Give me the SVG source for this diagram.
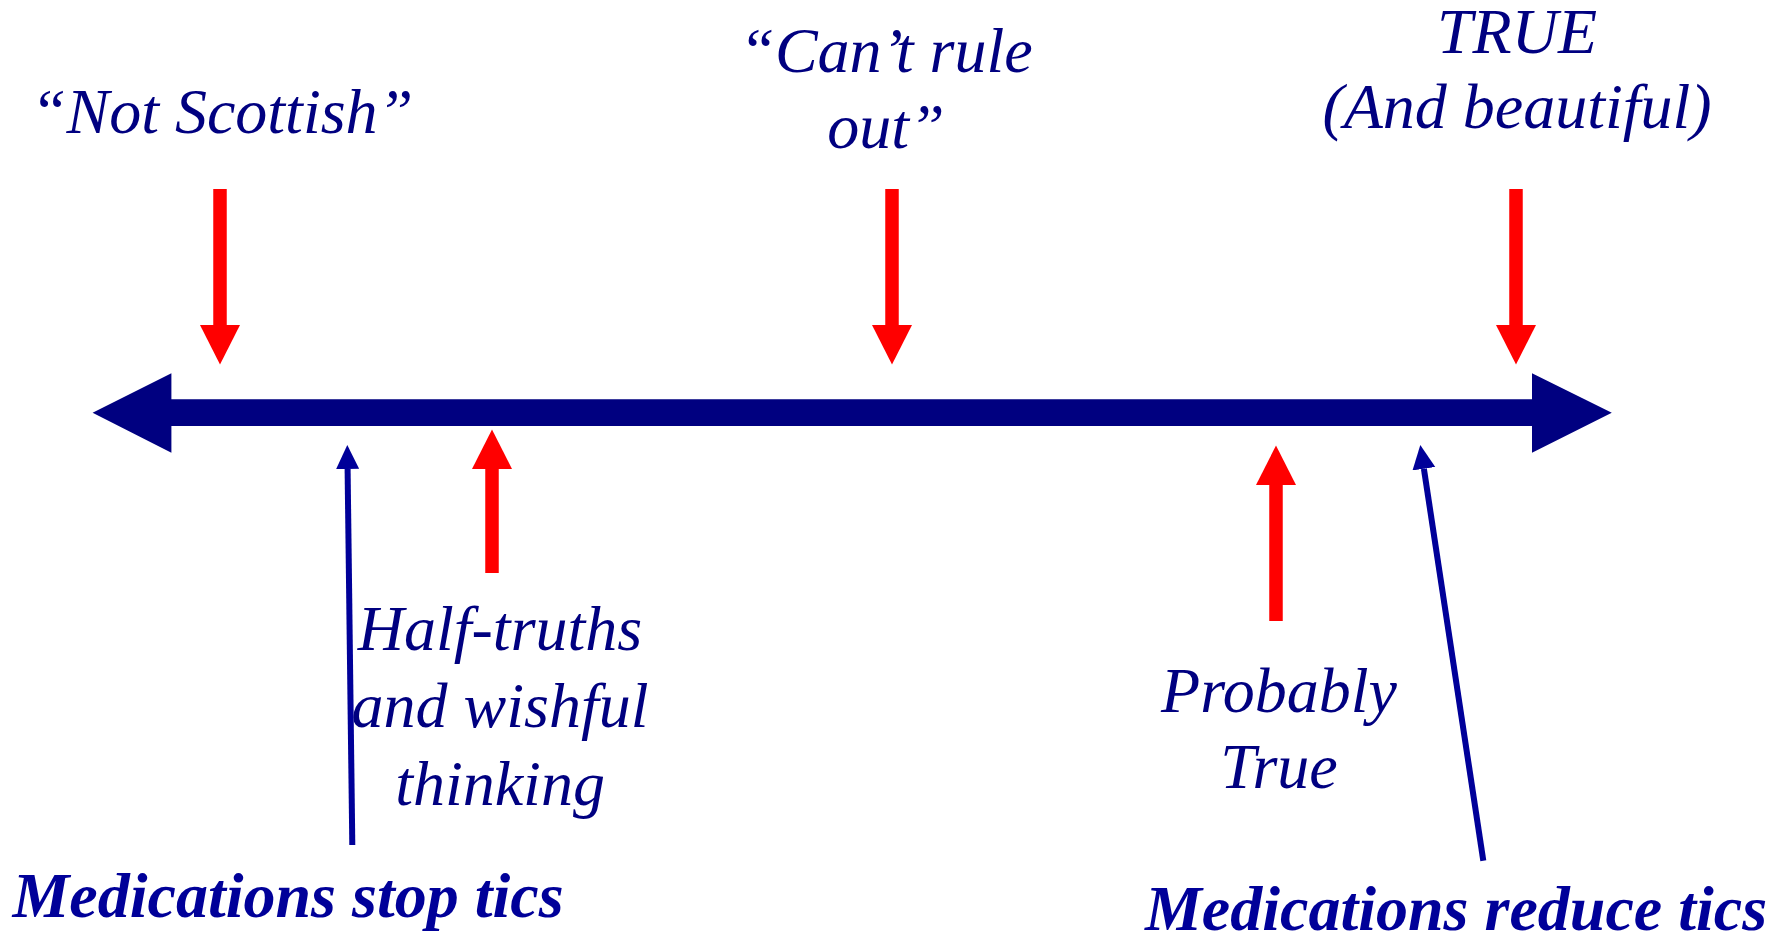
<svg xmlns="http://www.w3.org/2000/svg" width="1787" height="934" viewBox="0 0 1787 934">
<style>
.lbl{font-family:"Liberation Serif","Times New Roman",serif;font-style:italic;font-size:64px;fill:#000080;text-anchor:middle}
.bold{font-weight:bold;fill:#000099}
.red{stroke:#FF0000;stroke-width:13.5;fill:none}
.blue{stroke:#000099;stroke-width:6;fill:none}
</style>
<defs>
<marker id="redHead" markerUnits="userSpaceOnUse" markerWidth="40" markerHeight="40" refX="0" refY="20" orient="auto" viewBox="0 0 40 40">
<path d="M0,0 L39.5,20 L0,40 z" fill="#FF0000"/>
</marker>
<marker id="blueHead" markerUnits="userSpaceOnUse" markerWidth="24" markerHeight="24" refX="0" refY="11.5" orient="auto" viewBox="0 0 24 23">
<path d="M0,0 L24,11.5 L0,23 z" fill="#000099"/>
</marker>
</defs>
<rect width="1787" height="934" fill="#FFFFFF"/>
<g id="scale">
<polygon points="92.6,412.7 171.4,373.3 171.4,399.3 1532,399.3 1532,373.3 1611.8,412.7 1532,452.7 1532,426 171.4,426 171.4,452.7" fill="#000080"/>
</g>
<g id="connectors">
<line class="red" x1="220" y1="189" x2="220" y2="325" marker-end="url(#redHead)"/>
<line class="red" x1="892" y1="189" x2="892" y2="325" marker-end="url(#redHead)"/>
<line class="red" x1="1516" y1="189" x2="1516" y2="325" marker-end="url(#redHead)"/>
<line class="red" x1="492" y1="573" x2="492" y2="469" marker-end="url(#redHead)"/>
<line class="red" x1="1276" y1="621" x2="1276" y2="485" marker-end="url(#redHead)"/>
<line class="blue" x1="352.3" y1="845" x2="347.6" y2="469" marker-end="url(#blueHead)"/>
<line class="blue" x1="1483.3" y1="860.7" x2="1423.9" y2="468.7" marker-end="url(#blueHead)"/>
</g>
<g id="not-scottish">
<text class="lbl" x="222" y="133">“Not Scottish”</text>
</g>
<g id="cant-rule-out">
<text class="lbl" x="886" y="72">“Can’t rule</text>
<text class="lbl" x="886" y="148">out”</text>
</g>
<g id="true">
<text class="lbl" x="1517" y="53">TRUE</text>
<text class="lbl" x="1517" y="128">(And beautiful)</text>
</g>
<g id="half-truths">
<text class="lbl" x="500" y="650">Half-truths</text>
<text class="lbl" x="500" y="727">and wishful</text>
<text class="lbl" x="500" y="805">thinking</text>
</g>
<g id="probably-true">
<text class="lbl" x="1279" y="712">Probably</text>
<text class="lbl" x="1279" y="788">True</text>
</g>
<g id="meds-stop">
<text class="lbl bold" x="288" y="917">Medications stop tics</text>
</g>
<g id="meds-reduce">
<text class="lbl bold" x="1456" y="930">Medications reduce tics</text>
</g>
</svg>
